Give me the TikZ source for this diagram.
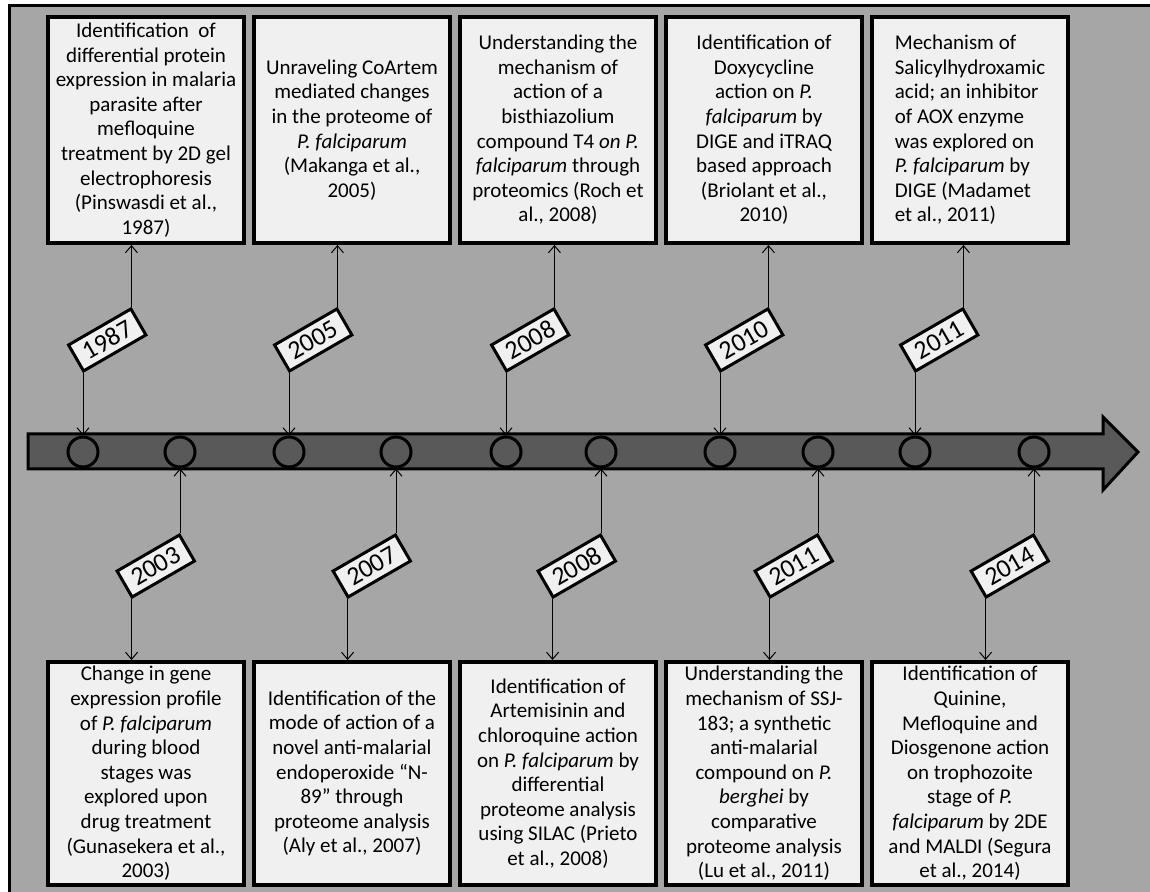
\documentclass[tikz,border=0pt]{standalone}
\usepackage{fontspec}
\setmainfont{Carlito}
\usetikzlibrary{arrows.meta}

\definecolor{panelgray}{gray}{0.65}
\definecolor{boxfill}{gray}{0.94}
\definecolor{bargray}{gray}{0.35}

\begin{document}
\begin{tikzpicture}[x=0.5pt, y=-0.5pt,
    infobox/.style={draw, line width=2pt, fill=boxfill, minimum width=98pt, inner sep=1pt, align=center, font=\fontsize{10.5}{12.3}\selectfont},
    topbox/.style={infobox, minimum height=113pt},
    botbox/.style={infobox, minimum height=111.5pt},
    yearbox/.style={draw, line width=1.5pt, fill=boxfill, rotate=30, minimum width=36pt, minimum height=15pt, inner sep=0pt, font=\fontsize{13}{15}\selectfont},
    hub/.style={circle, draw, line width=1.5pt, fill=bargray, minimum size=15pt, inner sep=0pt},
    link/.style={-{Straight Barb[length=3.5pt, width=6pt]}, line width=0.5pt}]
    \useasboundingbox (0,0) rectangle (1150,892);
    % panel
    \fill[panelgray] (9,6) rectangle (1150,892);
    \draw[line width=1.5pt] (9,892) -- (9,6) -- (1150,6);

    % timeline arrow
    \draw[line width=1.5pt, fill=bargray] (28,434) -- (1103,434) -- (1103,417) -- (1138,452) -- (1103,490) -- (1103,469) -- (28,469) -- cycle;
    \node[hub] (c1) at (83,452) {};
    \node[hub] (c2) at (180,452) {};
    \node[hub] (c3) at (289,452) {};
    \node[hub] (c4) at (396,452) {};
    \node[hub] (c5) at (506,452) {};
    \node[hub] (c6) at (601,452) {};
    \node[hub] (c7) at (720,452) {};
    \node[hub] (c8) at (818,452) {};
    \node[hub] (c9) at (915,452) {};
    \node[hub] (c10) at (1034,452) {};

    % upper row
    \node[topbox] (t1) at (146,130) {Identification~ of\\differential protein\\expression in malaria\\parasite after\\mefloquine\\treatment by 2D gel\\electrophoresis\\(Pinswasdi et al.,\\1987)};
    \node[topbox] (t2) at (352,130) {Unraveling CoArtem\\mediated changes\\in the proteome of\\\textit{P. falciparum}\\(Makanga et al.,\\2005)};
    \node[topbox] (t3) at (558,130) {Understanding the\\mechanism of\\action of a\\bisthiazolium\\compound T4 \textit{on P.}\\\textit{falciparum} through\\proteomics (Roch et\\al., 2008)};
    \node[topbox] (t4) at (764,130) {Identification of\\Doxycycline\\action on \textit{P.}\\\textit{falciparum} by\\DIGE and iTRAQ\\based approach\\(Briolant et al.,\\2010)};
    \node[topbox, align=left] (t5) at (970,130) {Mechanism of\\Salicylhydroxamic\\acid; an inhibitor\\of AOX enzyme\\was explored on\\\textit{P. falciparum} by\\DIGE (Madamet\\et al., 2011)};

    \node[yearbox, anchor=south west] (y1) at (83,373) {1987};
    \node[yearbox, anchor=south west] (y3) at (289,373) {2005};
    \node[yearbox, anchor=south west] (y5) at (506,373) {2008};
    \node[yearbox, anchor=south west] (y7) at (720,373) {2010};
    \node[yearbox, anchor=south west] (y9) at (915,373) {2011};

    \draw[link] (y1.north east) -- (y1.north east |- t1.south);
    \draw[link] (y3.north east) -- (y3.north east |- t2.south);
    \draw[link] (y5.north east) -- (y5.north east |- t3.south);
    \draw[link] (y7.north east) -- (y7.north east |- t4.south);
    \draw[link] (y9.north east) -- (y9.north east |- t5.south);
    \draw[link] (y1.south west) -- (c1.north);
    \draw[link] (y3.south west) -- (c3.north);
    \draw[link] (y5.south west) -- (c5.north);
    \draw[link] (y7.south west) -- (c7.north);
    \draw[link] (y9.south west) -- (c9.north);

    % lower row
    \node[botbox] (b1) at (146,773.5) {Change in gene\\expression profile\\of \textit{P. falciparum}\\during blood\\stages was\\explored upon\\drug treatment\\(Gunasekera et al.,\\2003)};
    \node[botbox] (b2) at (352,773.5) {Identification of the\\mode of action of a\\novel anti-malarial\\endoperoxide “N-\\89” through\\proteome analysis\\(Aly et al., 2007)};
    \node[botbox] (b3) at (558,773.5) {Identification of\\Artemisinin and\\chloroquine action\\on \textit{P. falciparum} by\\differential\\proteome analysis\\using SILAC (Prieto\\et al., 2008)};
    \node[botbox] (b4) at (764,773.5) {Understanding the\\mechanism of SSJ-\\183; a synthetic\\anti-malarial\\compound on \textit{P.}\\\textit{berghei} by\\comparative\\proteome analysis\\(Lu et al., 2011)};
    \node[botbox] (b5) at (970,773.5) {Identification of\\Quinine,\\Mefloquine and\\Diosgenone action\\on trophozoite\\stage of \textit{P.}\\\textit{falciparum} by 2DE\\and MALDI (Segura\\et al., 2014)};

    \node[yearbox, anchor=north east] (y2) at (180,533) {2003};
    \node[yearbox, anchor=north east] (y4) at (396,533) {2007};
    \node[yearbox, anchor=north east] (y6) at (601,533) {2008};
    \node[yearbox, anchor=north east] (y8) at (818,533) {2011};
    \node[yearbox, anchor=north east] (y10) at (1034,533) {2014};

    \draw[link] (y2.north east) -- (c2.south);
    \draw[link] (y4.north east) -- (c4.south);
    \draw[link] (y6.north east) -- (c6.south);
    \draw[link] (y8.north east) -- (c8.south);
    \draw[link] (y10.north east) -- (c10.south);
    \draw[link] (y2.south west) -- (y2.south west |- b1.north);
    \draw[link] (y4.south west) -- (y4.south west |- b2.north);
    \draw[link] (y6.south west) -- (y6.south west |- b3.north);
    \draw[link] (y8.south west) -- (y8.south west |- b4.north);
    \draw[link] (y10.south west) -- (y10.south west |- b5.north);
\end{tikzpicture}
\end{document}
